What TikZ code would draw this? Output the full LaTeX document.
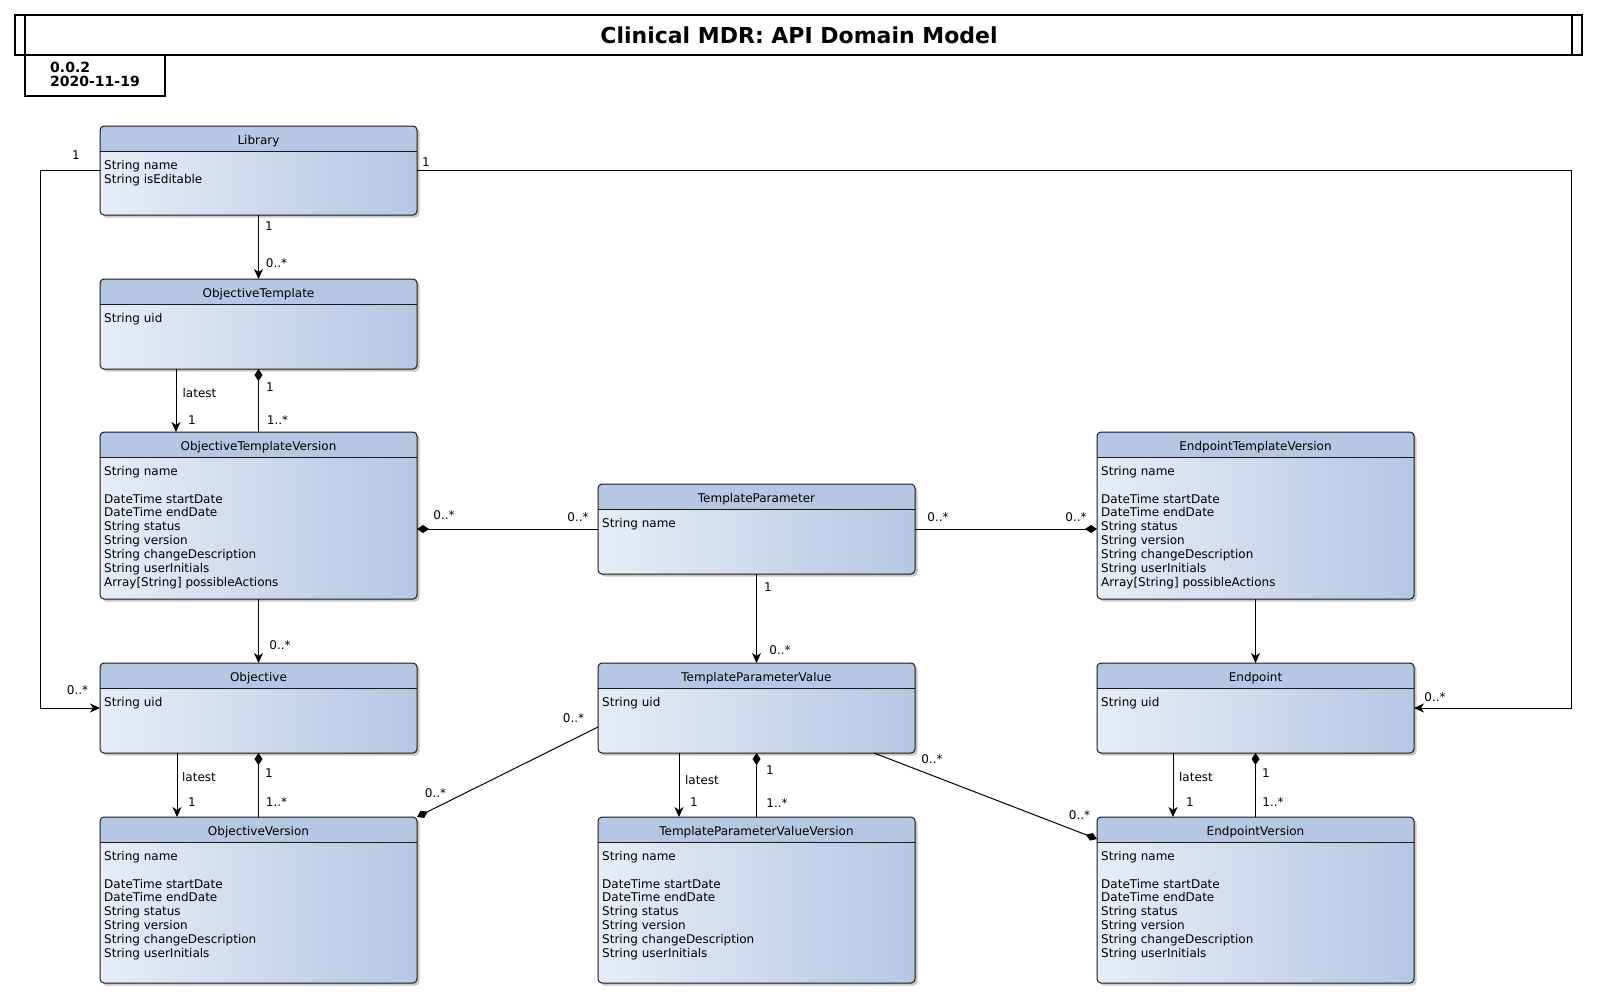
\documentclass[tikz,border=0pt]{standalone}
\usepackage{fontspec}
\setmainfont{DejaVu Sans}
\usetikzlibrary{arrows.meta,calc,shadows}
\definecolor{hdrc}{HTML}{B5C7E3}
\definecolor{bodyl}{HTML}{E6EDF7}
\definecolor{bodyr}{HTML}{B5C7E3}
\definecolor{edgec}{HTML}{1A1A1A}
\tikzset{
  umlnode/.style={rectangle, rounded corners=4pt, draw=none, left color=bodyl, right color=bodyr,
    inner sep=0pt, outer sep=0pt,
    drop shadow={shadow xshift=2.5pt, shadow yshift=-2.5pt, opacity=0.22, fill=black}},
  boxline/.style={draw=edgec, line width=1pt},
  clsname/.style={font=\fontsize{12}{14}\selectfont, inner sep=0pt},
  attrs/.style={font=\fontsize{12}{13.85}\selectfont, align=left, inner sep=0pt},
  lbl/.style={font=\fontsize{12}{14}\selectfont, inner sep=0pt},
  conn/.style={draw=black, line width=1pt},
  arr/.style={conn, arrows={-Stealth[length=10pt,width=9pt,inset=3pt]}},
  compS/.style={conn, arrows={Diamond[length=12pt,width=8pt]-}},
  compE/.style={conn, arrows={-Diamond[length=12pt,width=8pt]}},
  frameline/.style={draw=black, line width=1.4pt}
}
\newcommand\umlclass[7]{%
  \node[umlnode, minimum width=#4pt, minimum height=#5pt, anchor=north west] (#1) at (#2,#3) {};
  \begin{scope}
    \clip[rounded corners=4pt] (#1.north west) rectangle (#1.south east);
    \fill[hdrc] (#1.north west) rectangle ($(#1.north east)+(0,25.5)$);
  \end{scope}
  \draw[boxline, rounded corners=4pt] (#1.north west) rectangle (#1.south east);
  \draw[boxline] ($(#1.north west)+(0,25.5)$) -- ($(#1.north east)+(0,25.5)$);
  \node[clsname, anchor=base] (#1-t) at ($(#1.north)+(0,18.3)$) {#6};
  \node[attrs, anchor=north west] (#1-a) at ($(#1.north west)+(4,33.5)$) {#7};
}
\newcommand\verattrs{\strut String name\\[13.85pt]DateTime startDate\\DateTime endDate\\String status\\String version\\String changeDescription\\String userInitials}
\newcommand\tplattrs{\strut String name\\[13.85pt]DateTime startDate\\DateTime endDate\\String status\\String version\\String changeDescription\\String userInitials\\Array[String] possibleActions}
\begin{document}
\begin{tikzpicture}[x=1pt,y=-1pt]
\useasboundingbox (0,0) rectangle (1598,999);
% title frame
\draw[frameline] (15,15) rectangle (1582,55);
\draw[frameline] (25,15) -- (25,55);
\draw[frameline] (1572,15) -- (1572,55);
\node[inner sep=0pt, font=\bfseries\fontsize{22}{26}\selectfont] (title) at (799,35) {Clinical MDR: API Domain Model};
\draw[frameline] (25,55) -- (25,96) -- (165,96) -- (165,55);
\node[inner sep=0pt, anchor=west, font=\bfseries\fontsize{14}{16}\selectfont] (ver) at (50,67.7) {0.0.2};
\node[inner sep=0pt, anchor=west, font=\bfseries\fontsize{14}{16}\selectfont] (date) at (50,81.7) {2020-11-19};

% classes
\umlclass{lib}{100}{126}{317}{89}{Library}{\strut String name\\String isEditable}
\umlclass{ot}{100}{279}{317}{90}{ObjectiveTemplate}{\strut String uid}
\umlclass{otv}{100}{432}{317}{167}{ObjectiveTemplateVersion}{\tplattrs}
\umlclass{tp}{598}{484}{317}{90}{TemplateParameter}{\strut String name}
\umlclass{etv}{1097}{432}{317}{167}{EndpointTemplateVersion}{\tplattrs}
\umlclass{obj}{100}{663}{317}{90}{Objective}{\strut String uid}
\umlclass{tpv}{598}{663}{317}{90}{TemplateParameterValue}{\strut String uid}
\umlclass{ep}{1097}{663}{317}{90}{Endpoint}{\strut String uid}
\umlclass{ov}{100}{817}{317}{166}{ObjectiveVersion}{\verattrs}
\umlclass{tpvv}{598}{817}{317}{166}{TemplateParameterValueVersion}{\verattrs}
\umlclass{ev}{1097}{817}{317}{166}{EndpointVersion}{\verattrs}

% connectors
\coordinate (lw) at (40,170.5);
\coordinate (re) at (1571,170.5);
\draw[arr] (lib.west) -- (lw) |- (obj.west);
\draw[arr] (lib.east) -- (re) |- (ep.east);
\draw[arr] (lib.south) -- (ot.north);
\draw[arr] ($(ot.south west)+(76,0)$) -- ($(otv.north west)+(76,0)$);
\draw[compS] (ot.south) -- (otv.north);
\draw[compS] (otv.east |- tp.west) -- (tp.west);
\draw[compE] (tp.east) -- (etv.west |- tp.east);
\draw[arr] (tp.south) -- (tpv.north);
\draw[arr] (otv.south) -- (obj.north);
\draw[arr] (etv.south) -- (ep.north);
\draw[arr] ($(obj.south west)+(77,0)$) -- ($(ov.north west)+(77,0)$);
\draw[compS] (obj.south) -- (ov.north);
\draw[arr] ($(tpv.south west)+(81,0)$) -- ($(tpvv.north west)+(81,0)$);
\draw[compS] (tpv.south) -- (tpvv.north);
\draw[arr] ($(ep.south west)+(76,0)$) -- ($(ev.north west)+(76,0)$);
\draw[compS] (ep.south) -- (ev.north);
\draw[compE] ($(tpv.north west)+(0,64)$) -- (ov.north east);
\draw[compE] ($(tpv.south west)+(276,0)$) -- ($(ev.north west)+(0,22)$);

% labels
\node[lbl] (m1) at (76,155) {1};
\node[lbl] (m2) at (77.5,690) {0..*};
\node[lbl] (m3) at (426,162) {1};
\node[lbl] (m4) at (1435,697) {0..*};
\node[lbl] (m5) at (269,226) {1};
\node[lbl] (m6) at (276.5,263) {0..*};
\node[lbl] (m7) at (199.5,393) {latest};
\node[lbl] (m8) at (192,420) {1};
\node[lbl] (m9) at (270,387) {1};
\node[lbl] (m10) at (277.5,420) {1..*};
\node[lbl] (m11) at (444,515) {0..*};
\node[lbl] (m12) at (578,517) {0..*};
\node[lbl] (m13) at (938,517) {0..*};
\node[lbl] (m14) at (1076,517) {0..*};
\node[lbl] (m15) at (768,587) {1};
\node[lbl] (m16) at (780,650) {0..*};
\node[lbl] (m17) at (280,645) {0..*};
\node[lbl] (m18) at (199,777) {latest};
\node[lbl] (m19) at (192,802) {1};
\node[lbl] (m20) at (269,773) {1};
\node[lbl] (m21) at (276.5,802) {1..*};
\node[lbl] (m22) at (702,780) {latest};
\node[lbl] (m23) at (694,802) {1};
\node[lbl] (m24) at (770,770) {1};
\node[lbl] (m25) at (777,803) {1..*};
\node[lbl] (m26) at (1196,777) {latest};
\node[lbl] (m27) at (1190,802) {1};
\node[lbl] (m28) at (1266,773) {1};
\node[lbl] (m29) at (1273,802) {1..*};
\node[lbl] (m30) at (573.5,718) {0..*};
\node[lbl] (m31) at (435.5,793) {0..*};
\node[lbl] (m32) at (932,759) {0..*};
\node[lbl] (m33) at (1079.5,815) {0..*};
\end{tikzpicture}
\end{document}
